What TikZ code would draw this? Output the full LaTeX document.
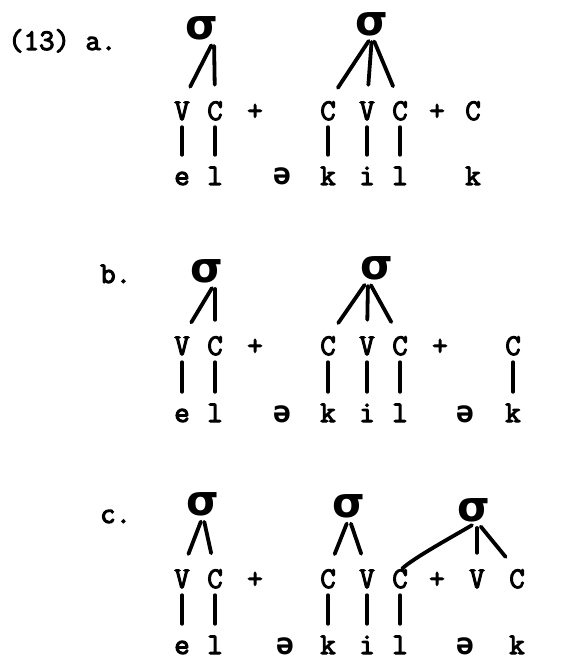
\documentclass[tikz,border=0pt]{standalone}
\usepackage{amsmath,amssymb}
\usepackage{fontspec}
\newfontfamily\typefont[FakeBold=3.5]{Latin Modern Mono}
\newfontfamily\schwafont{DejaVu Sans Mono}
\newfontfamily\sigfont{DejaVu Sans}
\usepackage{tikz}
\usetikzlibrary{positioning}
\newcommand{\typed}{\fontsize{30}{32}\selectfont\typefont\bfseries}

\begin{document}
\begin{tikzpicture}[
  x=1pt,y=-1pt,
  lab/.style={font=\typed,inner sep=0pt,text height=17pt,text depth=0pt,anchor=base},
  seg/.style={font=\typed,inner sep=0pt,text height=19pt,text depth=0pt,anchor=base},
  syl/.style={font=\fontsize{42}{42}\selectfont\sigfont\bfseries,inner sep=0pt},
  branch/.style={line width=3.8pt,line cap=round,shorten <=6pt,shorten >=18pt},
  assoc/.style={line width=3.8pt,line cap=round,shorten <=7pt,shorten >=11pt}
]
\useasboundingbox (0,0) rectangle (573,660);

% (13a)
\node[lab,anchor=base west] (exA) at (8,50) {(13) a.};
\node[syl] (sA1) at (202,28) {σ};
\node[syl] (sA2) at (372,24) {σ};
\node[lab] (vA1) at (182,120) {V};
\node[lab] (cA1) at (215,120) {C};
\node[lab] (pA1) at (255,120) {+};
\node[lab] (cA2) at (328,120) {C};
\node[lab] (vA2) at (367,120) {V};
\node[lab] (cA3) at (400,120) {C};
\node[lab] (pA2) at (437,120) {+};
\node[lab] (cA4) at (473,120) {C};
\node[seg] (eA) at (182,185) {e};
\node[seg] (lA1) at (215,185) {l};
\node[seg] (schA) at (282,185) {\schwafont\bfseries ə};
\node[seg] (kA1) at (328,185) {k};
\node[seg] (iA) at (367,185) {i};
\node[seg] (lA2) at (400,185) {l};
\node[seg] (kA2) at (473,185) {k};
\draw[branch] ([xshift=12pt]sA1.south) -- (vA1.north);
\draw[branch] ([xshift=12pt]sA1.south) -- (cA1.north);
\draw[branch] (sA2.south) -- (cA2.north);
\draw[branch] (sA2.south) -- (vA2.north);
\draw[branch] (sA2.south) -- (cA3.north);
\draw[assoc] (vA1.south) -- (eA.north);
\draw[assoc] (cA1.south) -- (lA1.north);
\draw[assoc] (cA2.south) -- (kA1.north);
\draw[assoc] (vA2.south) -- (iA.north);
\draw[assoc] (cA3.south) -- (lA2.north);

% (13b)
\node[lab,anchor=base west] (exB) at (100,283) {b.};
\node[syl] (sB1) at (207,271) {σ};
\node[syl] (sB2) at (377,268) {σ};
\node[lab] (vB1) at (182,355) {V};
\node[lab] (cB1) at (215,355) {C};
\node[lab] (pB1) at (255,355) {+};
\node[lab] (cB2) at (328,355) {C};
\node[lab] (vB2) at (367,355) {V};
\node[lab] (cB3) at (400,355) {C};
\node[lab] (pB2) at (440,355) {+};
\node[lab] (cB4) at (513,355) {C};
\node[seg] (eB) at (182,422) {e};
\node[seg] (lB1) at (215,422) {l};
\node[seg] (schB1) at (282,422) {\schwafont\bfseries ə};
\node[seg] (kB1) at (328,422) {k};
\node[seg] (iB) at (367,422) {i};
\node[seg] (lB2) at (400,422) {l};
\node[seg] (schB2) at (465,422) {\schwafont\bfseries ə};
\node[seg] (kB2) at (513,422) {k};
\draw[branch] ([xshift=8pt]sB1.south) -- (vB1.north);
\draw[branch] ([xshift=8pt]sB1.south) -- (cB1.north);
\draw[branch] ([xshift=-9pt]sB2.south) -- (cB2.north);
\draw[branch] ([xshift=-9pt]sB2.south) -- (vB2.north);
\draw[branch] ([xshift=-9pt]sB2.south) -- (cB3.north);
\draw[assoc] (vB1.south) -- (eB.north);
\draw[assoc] (cB1.south) -- (lB1.north);
\draw[assoc] (cB2.south) -- (kB1.north);
\draw[assoc] (vB2.south) -- (iB.north);
\draw[assoc] (cB3.south) -- (lB2.north);
\draw[assoc] (cB4.south) -- (kB2.north);

% (13c)
\node[lab,anchor=base west] (exC) at (100,523) {c.};
\node[syl] (sC1) at (203,504) {σ};
\node[syl] (sC2) at (349,506) {σ};
\node[syl] (sC3) at (474,510) {σ};
\node[lab] (vC1) at (182,588) {V};
\node[lab] (cC1) at (215,588) {C};
\node[lab] (pC1) at (255,588) {+};
\node[lab] (cC2) at (328,588) {C};
\node[lab] (vC2) at (367,588) {V};
\node[lab] (cC3) at (400,588) {C};
\node[lab] (pC2) at (437,588) {+};
\node[lab] (vC3) at (477,588) {V};
\node[lab] (cC4) at (517,588) {C};
\node[seg] (eC) at (182,654) {e};
\node[seg] (lC1) at (215,654) {l};
\node[seg] (schC1) at (285,654) {\schwafont\bfseries ə};
\node[seg] (kC1) at (328,654) {k};
\node[seg] (iC) at (367,654) {i};
\node[seg] (lC2) at (400,654) {l};
\node[seg] (schC2) at (465,654) {\schwafont\bfseries ə};
\node[seg] (kC2) at (517,654) {k};
\draw[branch] (sC1.south) -- (vC1.north);
\draw[branch] (sC1.south) -- (cC1.north);
\draw[branch] (sC2.south) -- (cC2.north);
\draw[branch] (sC2.south) -- (vC2.north);
\draw[branch,shorten >=3pt] ([xshift=3pt]sC3.south) to[out=212,in=45,looseness=0.5] (cC3.north);
\draw[branch] ([xshift=3pt]sC3.south) -- (vC3.north);
\draw[branch] ([xshift=3pt]sC3.south) -- (cC4.north);
\draw[assoc] (vC1.south) -- (eC.north);
\draw[assoc] (cC1.south) -- (lC1.north);
\draw[assoc] (cC2.south) -- (kC1.north);
\draw[assoc] (vC2.south) -- (iC.north);
\draw[assoc] (cC3.south) -- (lC2.north);
\end{tikzpicture}
\end{document}
